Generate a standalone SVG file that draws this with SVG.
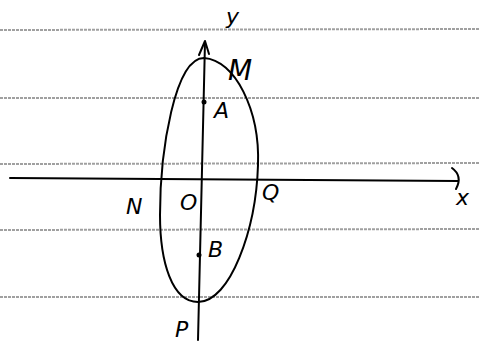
<svg xmlns="http://www.w3.org/2000/svg" width="479" height="345" viewBox="0 0 479 345">
<style>
.rule{stroke:#a0a0a0;stroke-width:2;stroke-dasharray:3 1}
.ink{fill:none;stroke:#000;stroke-width:2;stroke-linecap:round;stroke-linejoin:round}
.lbl{font-family:"DejaVu Sans",sans-serif;font-style:italic;font-size:22px;fill:#000}
</style>
<rect width="479" height="345" fill="#fff"/>
<g id="paper">
<line class="rule" x1="0" y1="30" x2="479" y2="29"/>
<line class="rule" x1="0" y1="98" x2="479" y2="98"/>
<line class="rule" x1="0" y1="164" x2="479" y2="163"/>
<line class="rule" x1="0" y1="230" x2="479" y2="229"/>
<line class="rule" x1="0" y1="297" x2="479" y2="297"/>
</g>
<g id="connectors">
<path class="ink" d="M10 178 L458 181"/>
<path class="ink" d="M452 168 Q463 176 456 189"/>
<path class="ink" d="M205 42 L198 340"/>
<path class="ink" d="M199 55 L205 41 L209 54"/>
</g>
<g id="ellipse">
<path class="ink" d="M204 58 C235 60 260 110 258 165 C256 230 230 302 198 302 C172 302 160 262 160 215 C160 150 175 58 204 58 Z"/>
</g>
<g id="pointA"><circle cx="204" cy="102" r="2.5"/><text class="lbl" x="214" y="118">A</text></g>
<g id="pointB"><circle cx="199" cy="255" r="2.5"/><text class="lbl" x="208" y="257">B</text></g>
<g id="labelM"><text class="lbl" x="228" y="80" style="font-size:28px">M</text></g>
<g id="labelN"><text class="lbl" x="126" y="214">N</text></g>
<g id="labelO"><text class="lbl" x="180" y="210">O</text></g>
<g id="labelQ"><text class="lbl" x="262" y="200">Q</text></g>
<g id="labelP"><text class="lbl" x="175" y="337">P</text></g>
<g id="labely"><text class="lbl" x="226" y="24">y</text></g>
<g id="labelx"><text class="lbl" x="456" y="205">x</text></g>
</svg>
